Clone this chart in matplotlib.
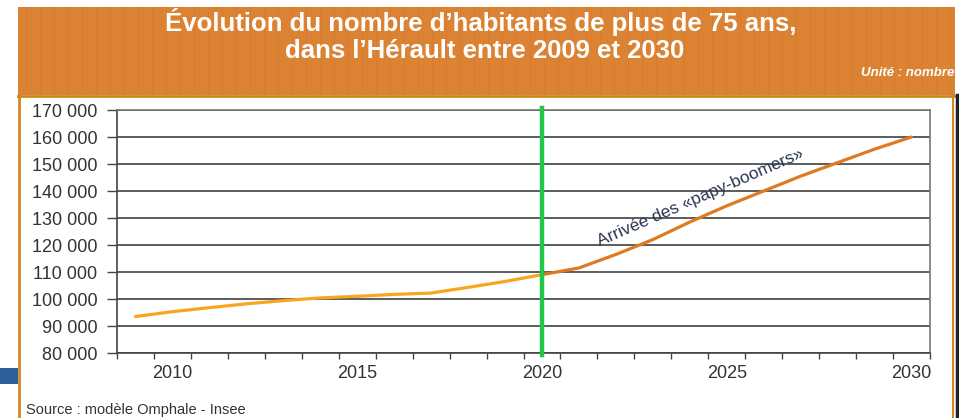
import numpy as np
import matplotlib
matplotlib.use("Agg")
from matplotlib import pyplot as plt
from matplotlib.patches import Rectangle
from matplotlib.lines import Line2D
from matplotlib.ticker import FuncFormatter, MultipleLocator

plt.rcParams['font.family'] = ['Liberation Sans', 'DejaVu Sans']

# data
years = [2009, 2010, 2011, 2012, 2013, 2014, 2015, 2016, 2017, 2018, 2019,
         2020, 2021, 2022, 2023, 2024, 2025, 2026, 2027, 2028, 2029, 2030]
habitants = [93500, 95300, 96800, 98200, 99400, 100400, 101000, 101700, 102200,
             104300, 106500, 109000, 111500, 116500, 122000, 128500, 134500,
             140000, 145500, 150500, 155500, 160000]
year_labels = [2010, 2015, 2020, 2025, 2030]
split_year = 2020

title = "Évolution du nombre d\u2019habitants de plus de 75 ans,\ndans l\u2019Hérault entre 2009 et 2030"
annotation = "Arrivée des «papy-boomers»"
source = "Source : modèle Omphale - Insee"

W, H = 959, 418
fig = plt.figure(figsize=(W / 100, H / 100), dpi=100)
fig.patch.set_facecolor("white")


def box(x0, y0, x1, y1, **kw):
    # pixel coords (top-left origin) -> figure fraction
    fig.add_artist(Rectangle((x0 / W, 1 - y1 / H), (x1 - x0) / W, (y1 - y0) / H,
                             transform=fig.transFigure, zorder=-2, **kw))


def fline(xs, ys, **kw):
    fig.add_artist(Line2D([x / W for x in xs], [1 - y / H for y in ys],
                          transform=fig.transFigure, zorder=-1, **kw))


# orange banner with faint stripes
box(18, 7, 955, 95, facecolor="#dc8333", edgecolor="none")
for sx in np.arange(26, 955, 14):
    fline([sx, sx], [7, 94], color="#d27733", lw=0.8, alpha=0.6)
fline([18, 955], [95.5, 95.5], color="#c98a1c", lw=2)

# white panel with border
box(19, 96, 953, 418, facecolor="white", edgecolor="none")
fline([19, 19], [95, 418], color="#d08a22", lw=2)
fline([953, 953], [95, 418], color="#d08a22", lw=1.5)
fline([956.5, 956.5], [95, 418], color="#222222", lw=2.5)

# little blue tab on the left
box(0, 368, 18, 384, facecolor="#2f5f98", edgecolor="none")

lines = title.split("\n")
fig.text(481 / W, 1 - 22 / H, lines[0], color="white", fontsize=18.5,
         fontweight="bold", ha="center", va="center")
fig.text(485 / W, 1 - 51 / H, lines[1], color="white", fontsize=18.5,
         fontweight="bold", ha="center", va="center")
fig.text(954 / W, 1 - 73 / H, "Unité : nombre", color="white", fontsize=9.5,
         fontweight="bold", fontstyle="italic", ha="right", va="center")
fig.text(26 / W, 1 - 410 / H, source, color="#333333", fontsize=10.5,
         ha="left", va="center")

# plot area
ax = fig.add_axes([117 / W, 1 - 353 / H, (930 - 117) / W, (353 - 110) / H])
ax.set_facecolor("none")
ax.set_xlim(years[0] - 0.5, years[-1] + 0.5)
ax.set_ylim(80000, 170000)

yrs = np.array(years)
vals = np.array(habitants)
early = yrs <= split_year
late = yrs >= split_year
ax.plot(yrs[early], vals[early], color="#f9a51e", lw=2.3, solid_capstyle="round", zorder=3)
ax.plot(yrs[late], vals[late], color="#e07a22", lw=2.3, solid_capstyle="round", zorder=3)

ax.axvline(split_year, ymin=-0.01, ymax=1.01, color="#22c64a", lw=3.2,
           clip_on=False, zorder=4)

ax.yaxis.set_major_locator(MultipleLocator(10000))
ax.yaxis.set_major_formatter(FuncFormatter(lambda v, p: f"{v:,.0f}".replace(",", " ")))
ax.grid(axis="y", color="#4f4f4f", lw=1.3, zorder=1)

ax.set_xticks(np.arange(years[0] - 0.5, years[-1] + 0.6, 1.0))
ax.set_xticklabels([])
ax.set_xticks(year_labels, minor=True)
ax.set_xticklabels([str(y) for y in year_labels], minor=True)
ax.tick_params(axis="x", which="major", direction="out", length=4, width=1,
               color="#444444")
ax.tick_params(axis="x", which="minor", length=0, pad=9, labelsize=13,
               labelcolor="#333333")
ax.tick_params(axis="y", direction="out", length=7, width=1, color="#444444",
               labelsize=13, labelcolor="#333333", pad=7)

for side in ["left", "bottom"]:
    ax.spines[side].set_color("#444444")
    ax.spines[side].set_linewidth(1.2)
for side in ["top", "right"]:
    ax.spines[side].set_color("#777777")
    ax.spines[side].set_linewidth(1.2)

ax.text(2024.3, 137400, annotation, rotation=23.5, rotation_mode="anchor",
        ha="center", va="center", fontsize=12.5, color="#2b3550", zorder=5)

plt.savefig("out.png", dpi=100)
